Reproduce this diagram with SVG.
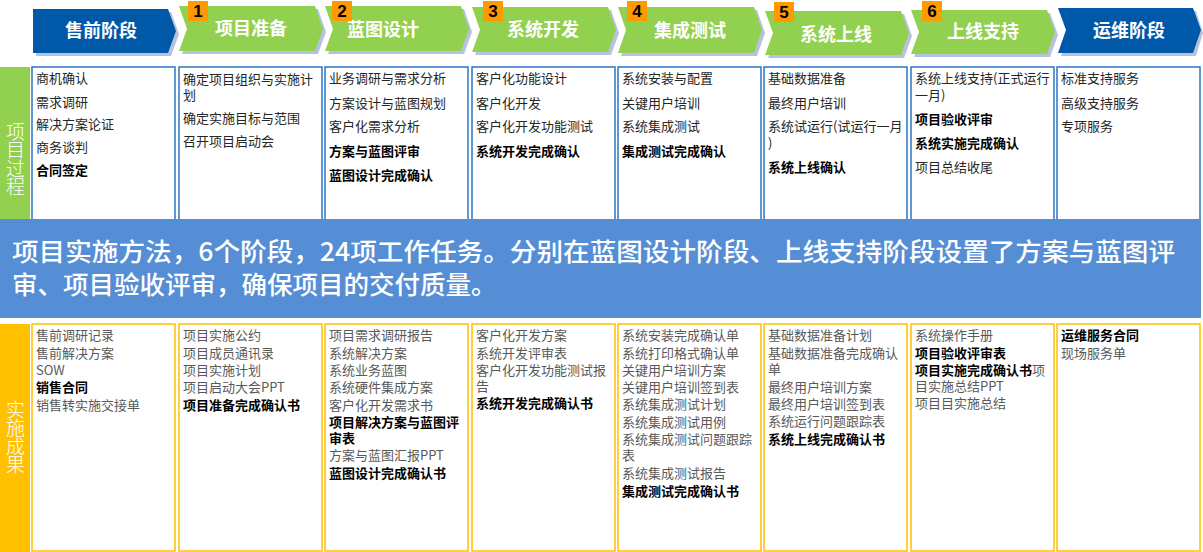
<svg xmlns="http://www.w3.org/2000/svg" width="1203" height="552" viewBox="0 0 1203 552">
<style>
.sh{fill:#B7C2E2}
.blue{fill:#0058A8}
.green{fill:#92D050}
.hd{font-family:"Noto Sans CJK SC",sans-serif;font-size:18px;font-weight:bold;fill:#FFFFFF;text-anchor:middle}
.badge{fill:#FF9900}
.bn{font-family:"Liberation Sans",Arial,sans-serif;font-size:17px;font-weight:bold;fill:#000;text-anchor:middle}
.side{font-family:"Noto Sans CJK SC",sans-serif;font-size:19px;font-weight:300;fill:#FFFFFF;writing-mode:vertical-rl;letter-spacing:-0.6px}
.tb{fill:#FFFFFF;stroke:#2A76C6;stroke-width:1.5}
.bb{fill:#FFFFFF;stroke:#FFC000;stroke-width:1.5}
.t{font-family:"Noto Sans CJK SC",sans-serif;font-size:13px;fill:#262626}
.b{font-family:"Noto Sans CJK SC",sans-serif;font-size:13px;fill:#595959}
.k{font-weight:bold;fill:#000000}
.ban{font-family:"Noto Sans CJK SC",sans-serif;font-size:25.5px;fill:#FFFFFF;font-weight:500}
</style>

<g id="header">
  <g id="h0">
    <polygon class="sh" points="36,12 171,12 179,34 171,56 36,56"/>
    <polygon class="blue" points="33,9 168,9 176,31 168,53 33,53"/>
    <text class="hd" x="101" y="37">售前阶段</text>
  </g>
  <g id="h1">
    <polygon class="sh" points="182,9 318,9 326,32 318,54 182,54 190,32"/>
    <polygon class="green" points="179,6 315,6 323,29 315,51 179,51 187,29"/>
    <text class="hd" x="251" y="35">项目准备</text>
    <rect class="badge" x="188" y="1" width="20" height="20"/>
    <text class="bn" x="198" y="17">1</text>
  </g>
  <g id="h2">
    <polygon class="sh" points="328,9 464,9 472,32 464,54 328,54 336,32"/>
    <polygon class="green" points="325,6 461,6 469,29 461,51 325,51 333,29"/>
    <text class="hd" x="383" y="36">蓝图设计</text>
    <rect class="badge" x="332" y="1" width="20" height="20"/>
    <text class="bn" x="342" y="17">2</text>
  </g>
  <g id="h3">
    <polygon class="sh" points="475,10 611,10 619,33 611,55 475,55 483,33"/>
    <polygon class="green" points="472,7 608,7 616,30 608,52 472,52 480,30"/>
    <text class="hd" x="543" y="36">系统开发</text>
    <rect class="badge" x="483" y="1" width="20" height="20"/>
    <text class="bn" x="493" y="17">3</text>
  </g>
  <g id="h4">
    <polygon class="sh" points="621,10 757,10 765,33 757,56 621,56 629,33"/>
    <polygon class="green" points="618,7 754,7 762,30 754,53 618,53 626,30"/>
    <text class="hd" x="690" y="37">集成测试</text>
    <rect class="badge" x="627" y="1" width="20" height="20"/>
    <text class="bn" x="637" y="17">4</text>
  </g>
  <g id="h5">
    <polygon class="sh" points="768,14 904,14 912,36 904,58 768,58 776,36"/>
    <polygon class="green" points="765,11 901,11 909,33 901,55 765,55 773,33"/>
    <text class="hd" x="836" y="41">系统上线</text>
    <rect class="badge" x="774" y="2" width="20" height="20"/>
    <text class="bn" x="784" y="18">5</text>
  </g>
  <g id="h6">
    <polygon class="sh" points="914,13 1050,13 1058,35 1050,57 914,57 922,35"/>
    <polygon class="green" points="911,10 1047,10 1055,32 1047,54 911,54 919,32"/>
    <text class="hd" x="983" y="38">上线支持</text>
    <rect class="badge" x="922" y="1" width="20" height="20"/>
    <text class="bn" x="932" y="17">6</text>
  </g>
  <g id="h7">
    <polygon class="sh" points="1061,11 1196,11 1203,33 1196,56 1061,56 1069,33"/>
    <polygon class="blue" points="1058,8 1193,8 1201,30 1193,53 1058,53 1066,30"/>
    <text class="hd" x="1129" y="37">运维阶段</text>
  </g>
</g>

<g id="process-label">
  <rect x="0" y="67" width="30" height="152" fill="#92D050"/>
  <text class="side" x="15.5" y="122">项目过程</text>
</g>

<g id="process">
  <g id="p1">
    <rect class="tb" x="32" y="67" width="143" height="160"/>
    <text class="t" x="36" y="83">商机确认</text>
    <text class="t" x="36" y="107">需求调研</text>
    <text class="t" x="36" y="129">解决方案论证</text>
    <text class="t" x="36" y="152">商务谈判</text>
    <text class="t k" x="36" y="175">合同签定</text>
  </g>
  <g id="p2">
    <rect class="tb" x="179" y="67" width="143" height="160"/>
    <text class="t" x="183" y="84">确定项目组织与实施计<tspan x="183" dy="16">划</tspan></text>
    <text class="t" x="183" y="123">确定实施目标与范围</text>
    <text class="t" x="183" y="146">召开项目启动会</text>
  </g>
  <g id="p3">
    <rect class="tb" x="325" y="67" width="143" height="160"/>
    <text class="t" x="329" y="83">业务调研与需求分析</text>
    <text class="t" x="329" y="108">方案设计与蓝图规划</text>
    <text class="t" x="329" y="131">客户化需求分析</text>
    <text class="t k" x="329" y="156">方案与蓝图评审</text>
    <text class="t k" x="329" y="180">蓝图设计完成确认</text>
  </g>
  <g id="p4">
    <rect class="tb" x="472" y="67" width="143" height="160"/>
    <text class="t" x="476" y="83">客户化功能设计</text>
    <text class="t" x="476" y="108">客户化开发</text>
    <text class="t" x="476" y="131">客户化开发功能测试</text>
    <text class="t k" x="476" y="156">系统开发完成确认</text>
  </g>
  <g id="p5">
    <rect class="tb" x="618" y="67" width="143" height="160"/>
    <text class="t" x="622" y="83">系统安装与配置</text>
    <text class="t" x="622" y="108">关键用户培训</text>
    <text class="t" x="622" y="131">系统集成测试</text>
    <text class="t k" x="622" y="156">集成测试完成确认</text>
  </g>
  <g id="p6">
    <rect class="tb" x="764" y="67" width="143" height="160"/>
    <text class="t" x="768" y="83">基础数据准备</text>
    <text class="t" x="768" y="108">最终用户培训</text>
    <text class="t" x="768" y="131">系统试运行(试运行一月<tspan x="768" dy="17">)</tspan></text>
    <text class="t k" x="768" y="172">系统上线确认</text>
  </g>
  <g id="p7">
    <rect class="tb" x="911" y="67" width="143" height="160"/>
    <text class="t" x="915" y="83">系统上线支持(正式运行<tspan x="915" dy="17">一月)</tspan></text>
    <text class="t k" x="915" y="124">项目验收评审</text>
    <text class="t k" x="915" y="148">系统实施完成确认</text>
    <text class="t" x="915" y="172">项目总结收尾</text>
  </g>
  <g id="p8">
    <rect class="tb" x="1057" y="67" width="143" height="160"/>
    <text class="t" x="1061" y="83">标准支持服务</text>
    <text class="t" x="1061" y="108">高级支持服务</text>
    <text class="t" x="1061" y="131">专项服务</text>
  </g>
</g>

<g id="banner">
  <rect x="0" y="219" width="1201" height="99" fill="#558ED5"/>
  <text class="ban" x="12" y="261" textLength="1163" lengthAdjust="spacingAndGlyphs">项目实施方法，6个阶段，24项工作任务。分别在蓝图设计阶段、上线支持阶段设置了方案与蓝图评</text>
  <text class="ban" x="12" y="294">审、项目验收评审，确保项目的交付质量。</text>
</g>

<g id="result-label">
  <rect x="0" y="324" width="30" height="228" fill="#FFC000"/>
  <text class="side" x="15.5" y="400">实施成果</text>
</g>

<g id="results">
  <g id="r1">
    <rect class="bb" x="32" y="324" width="143" height="227"/>
    <text class="b" x="36" y="340">售前调研记录</text>
    <text class="b" x="36" y="358">售前解决方案</text>
    <text class="b" x="36" y="375">SOW</text>
    <text class="b k" x="36" y="392">销售合同</text>
    <text class="b" x="36" y="410">销售转实施交接单</text>
  </g>
  <g id="r2">
    <rect class="bb" x="179" y="324" width="143" height="227"/>
    <text class="b" x="183" y="340">项目实施公约</text>
    <text class="b" x="183" y="358">项目成员通讯录</text>
    <text class="b" x="183" y="375">项目实施计划</text>
    <text class="b" x="183" y="392">项目启动大会PPT</text>
    <text class="b k" x="183" y="410">项目准备完成确认书</text>
  </g>
  <g id="r3">
    <rect class="bb" x="325" y="324" width="143" height="227"/>
    <text class="b" x="329" y="340">项目需求调研报告</text>
    <text class="b" x="329" y="358">系统解决方案</text>
    <text class="b" x="329" y="375">系统业务蓝图</text>
    <text class="b" x="329" y="392">系统硬件集成方案</text>
    <text class="b" x="329" y="410">客户化开发需求书</text>
    <text class="b k" x="329" y="427">项目解决方案与蓝图评<tspan x="329" dy="16">审表</tspan></text>
    <text class="b" x="329" y="460">方案与蓝图汇报PPT</text>
    <text class="b k" x="329" y="478">蓝图设计完成确认书</text>
  </g>
  <g id="r4">
    <rect class="bb" x="472" y="324" width="143" height="227"/>
    <text class="b" x="476" y="340">客户化开发方案</text>
    <text class="b" x="476" y="358">系统开发评审表</text>
    <text class="b" x="476" y="375">客户化开发功能测试报<tspan x="476" dy="16">告</tspan></text>
    <text class="b k" x="476" y="408">系统开发完成确认书</text>
  </g>
  <g id="r5">
    <rect class="bb" x="618" y="324" width="143" height="227"/>
    <text class="b" x="622" y="340">系统安装完成确认单</text>
    <text class="b" x="622" y="358">系统打印格式确认单</text>
    <text class="b" x="622" y="375">关键用户培训方案</text>
    <text class="b" x="622" y="392">关键用户培训签到表</text>
    <text class="b" x="622" y="409">系统集成测试计划</text>
    <text class="b" x="622" y="427">系统集成测试用例</text>
    <text class="b" x="622" y="444">系统集成测试问题跟踪<tspan x="622" dy="16">表</tspan></text>
    <text class="b" x="622" y="478">系统集成测试报告</text>
    <text class="b k" x="622" y="496">集成测试完成确认书</text>
  </g>
  <g id="r6">
    <rect class="bb" x="764" y="324" width="143" height="227"/>
    <text class="b" x="768" y="340">基础数据准备计划</text>
    <text class="b" x="768" y="358">基础数据准备完成确认<tspan x="768" dy="16">单</tspan></text>
    <text class="b" x="768" y="392">最终用户培训方案</text>
    <text class="b" x="768" y="409">最终用户培训签到表</text>
    <text class="b" x="768" y="426">系统运行问题跟踪表</text>
    <text class="b k" x="768" y="444">系统上线完成确认书</text>
  </g>
  <g id="r7">
    <rect class="bb" x="911" y="324" width="143" height="227"/>
    <text class="b" x="915" y="340">系统操作手册</text>
    <text class="b k" x="915" y="358">项目验收评审表</text>
    <text class="b" x="915" y="375"><tspan class="k">项目实施完成确认书</tspan>项<tspan x="915" dy="16">目实施总结PPT</tspan></text>
    <text class="b" x="915" y="408">项目目实施总结</text>
  </g>
  <g id="r8">
    <rect class="bb" x="1057" y="324" width="143" height="227"/>
    <text class="b k" x="1061" y="340">运维服务合同</text>
    <text class="b" x="1061" y="358">现场服务单</text>
  </g>
</g>
</svg>
